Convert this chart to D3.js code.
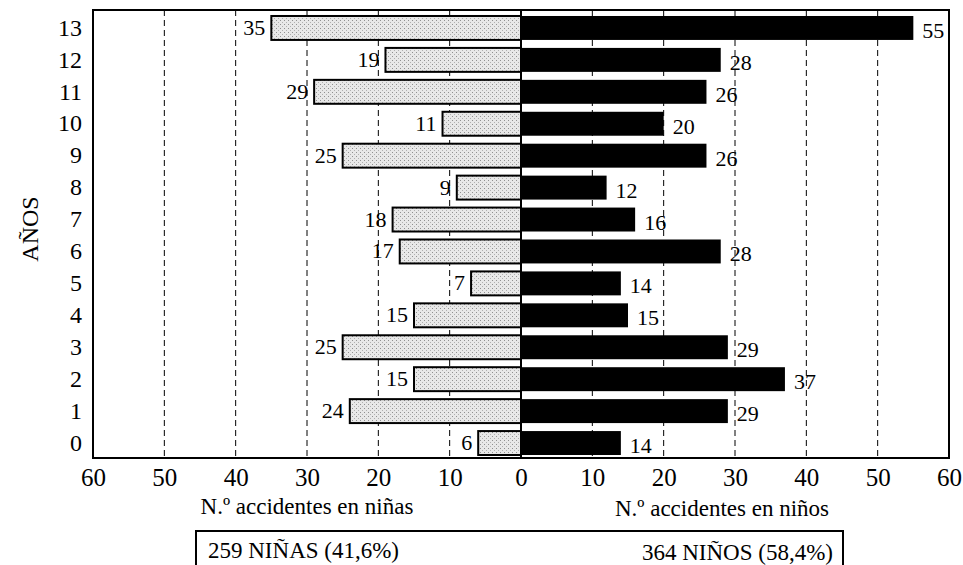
<!DOCTYPE html>
<html>
<head>
<meta charset="utf-8">
<script src="https://cdn.jsdelivr.net/npm/d3@7"></script>
<style>
  body { margin: 0; background: #fff; }
  text { font-family: "Liberation Serif", "DejaVu Serif", serif; fill: #000; }
</style>
</head>
<body>
<div id="viz"></div>
<script>
// data
var YEARS = [13, 12, 11, 10, 9, 8, 7, 6, 5, 4, 3, 2, 1, 0];
var GIRLS = [35, 19, 29, 11, 25, 9, 18, 17, 7, 15, 25, 15, 24, 6];
var BOYS  = [55, 28, 26, 20, 26, 12, 16, 28, 14, 15, 29, 37, 29, 14];
var X_TICKS = [-60, -50, -40, -30, -20, -10, 0, 10, 20, 30, 40, 50, 60];
var GRID = [-50, -40, -30, -20, -10, 10, 20, 30, 40, 50];
var LABEL_GIRLS = "N.\u00ba accidentes en ni\u00f1as";
var LABEL_BOYS = "N.\u00ba accidentes en ni\u00f1os";
var TOTAL_GIRLS = "259 NI\u00d1AS (41,6%)";
var TOTAL_BOYS = "364 NI\u00d1OS (58,4%)";

var SVG_WIDTH = 963, SVG_HEIGHT = 565;
var LEFT = 93, RIGHT = 949, TOP = 10, BOTTOM = 458;

var svg = d3.select("#viz").append("svg")
    .attr("width", SVG_WIDTH)
    .attr("height", SVG_HEIGHT);

// stipple for the girls' bars
var pat = svg.append("defs").append("pattern")
    .attr("id", "stipple")
    .attr("width", 4).attr("height", 4)
    .attr("patternUnits", "userSpaceOnUse");
pat.append("rect").attr("width", 4).attr("height", 4).attr("fill", "#e8e8e8");
pat.append("rect").attr("x", 0).attr("y", 0).attr("width", 1).attr("height", 1).attr("fill", "#909090");
pat.append("rect").attr("x", 2).attr("y", 2).attr("width", 1).attr("height", 1).attr("fill", "#b0b0b0");

var x = d3.scaleLinear().domain([-60, 60]).range([LEFT, RIGHT]);
var y = d3.scaleBand().domain(YEARS).range([12, 459]).paddingInner(0.25).paddingOuter(0.125);

// dashed grid
svg.selectAll("line.grid")
    .data(GRID)
    .enter().append("line")
    .attr("class", "grid")
    .attr("x1", function(d){ return x(d); })
    .attr("x2", function(d){ return x(d); })
    .attr("y1", TOP)
    .attr("y2", BOTTOM)
    .attr("stroke", "#000")
    .attr("stroke-width", 1)
    .attr("stroke-dasharray", "6,4");

var rows = svg.selectAll("g.row")
    .data(YEARS)
    .enter().append("g")
    .attr("class", "row");

// girls (left)
rows.append("rect")
    .attr("x", function(d, i){ return x(-GIRLS[i]); })
    .attr("y", function(d){ return y(d); })
    .attr("width", function(d, i){ return x(0) - x(-GIRLS[i]); })
    .attr("height", y.bandwidth())
    .attr("fill", "url(#stipple)")
    .attr("stroke", "#000")
    .attr("stroke-width", 2);

// boys (right)
rows.append("rect")
    .attr("x", x(0))
    .attr("y", function(d){ return y(d); })
    .attr("width", function(d, i){ return x(BOYS[i]) - x(0); })
    .attr("height", y.bandwidth())
    .attr("fill", "#000");

// value labels
rows.append("text")
    .attr("x", function(d, i){ return x(-GIRLS[i]) - 6; })
    .attr("y", function(d){ return y(d) + y.bandwidth() / 2 + 7; })
    .attr("text-anchor", "end")
    .attr("font-size", 22)
    .text(function(d, i){ return GIRLS[i]; });

rows.append("text")
    .attr("x", function(d, i){ return x(BOYS[i]) + 9; })
    .attr("y", function(d){ return y(d) + y.bandwidth() / 2 + 10; })
    .attr("font-size", 22)
    .text(function(d, i){ return BOYS[i]; });

// zero line and frame
svg.append("line")
    .attr("x1", x(0)).attr("x2", x(0))
    .attr("y1", TOP).attr("y2", BOTTOM)
    .attr("stroke", "#000").attr("stroke-width", 2);

svg.append("rect")
    .attr("x", LEFT).attr("y", TOP)
    .attr("width", RIGHT - LEFT).attr("height", BOTTOM - TOP)
    .attr("fill", "none")
    .attr("stroke", "#000")
    .attr("stroke-width", 2);

// x axis
var xAxis = d3.axisBottom(x)
    .tickValues(X_TICKS)
    .tickSize(0)
    .tickPadding(10)
    .tickFormat(function(d){ return Math.abs(d); });
var gx = svg.append("g")
    .attr("transform", "translate(0," + BOTTOM + ")")
    .call(xAxis);
gx.select(".domain").remove();
gx.selectAll("text")
    .attr("font-size", 25)
    .attr("font-family", "Liberation Serif")
    .attr("fill", "#000");

// y axis
var yAxis = d3.axisLeft(y).tickSize(0).tickPadding(11);
var gy = svg.append("g")
    .attr("transform", "translate(" + LEFT + ",0)")
    .call(yAxis);
gy.select(".domain").remove();
gy.selectAll("text")
    .attr("font-size", 24)
    .attr("font-family", "Liberation Serif")
    .attr("fill", "#000");

svg.append("text")
    .attr("transform", "translate(38,229) rotate(-90)")
    .attr("text-anchor", "middle")
    .attr("font-size", 24)
    .text("A\u00d1OS");

// axis titles
svg.append("text")
    .attr("x", 307).attr("y", 514)
    .attr("text-anchor", "middle")
    .attr("font-size", 23)
    .text(LABEL_GIRLS);

svg.append("text")
    .attr("x", 722).attr("y", 516)
    .attr("text-anchor", "middle")
    .attr("font-size", 23)
    .text(LABEL_BOYS);

// totals box
svg.append("path")
    .attr("d", "M196,566V531H843V566")
    .attr("fill", "none")
    .attr("stroke", "#000")
    .attr("stroke-width", 2);

svg.append("text")
    .attr("x", 208).attr("y", 558)
    .attr("font-size", 23)
    .text(TOTAL_GIRLS);

svg.append("text")
    .attr("x", 833).attr("y", 560)
    .attr("text-anchor", "end")
    .attr("font-size", 23)
    .text(TOTAL_BOYS);
</script>
</body>
</html>
